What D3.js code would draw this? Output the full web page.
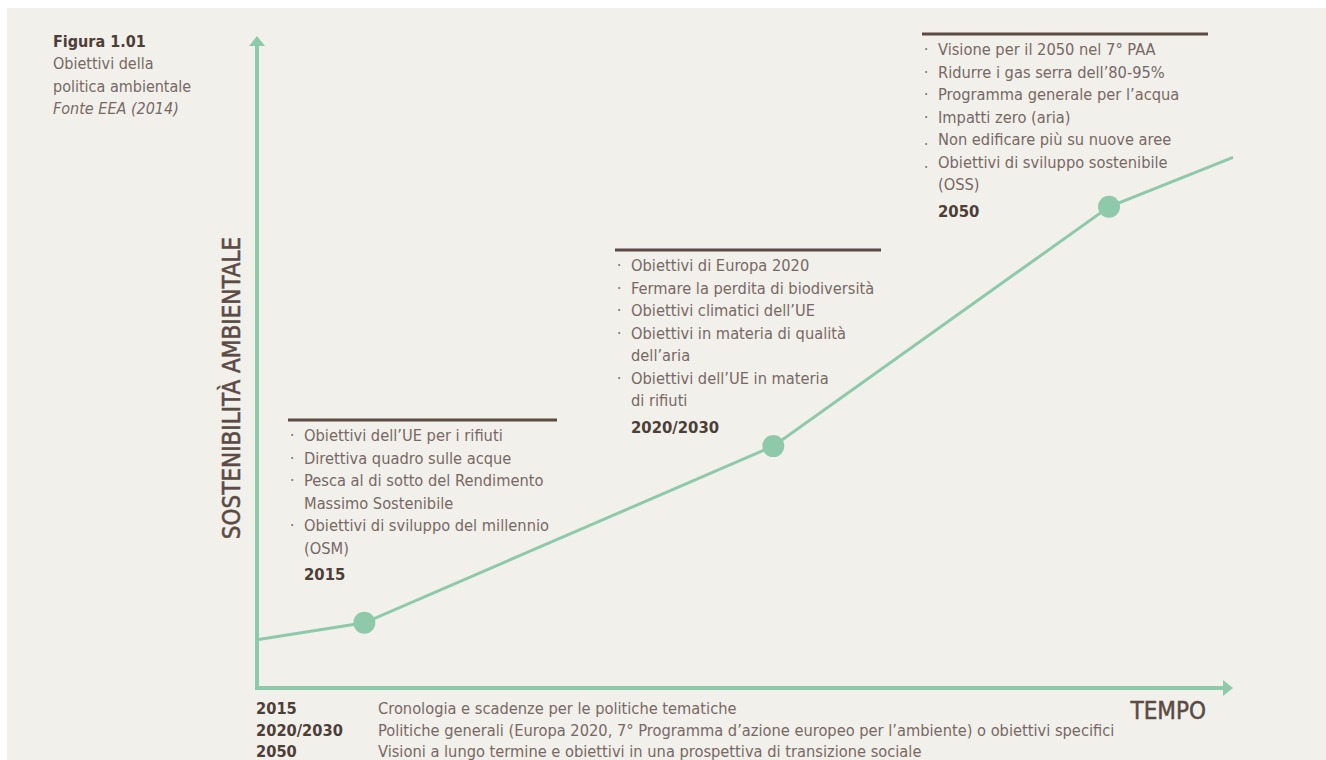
<!DOCTYPE html>
<html>
<head>
<meta charset="utf-8">
<script src="https://cdn.jsdelivr.net/npm/d3@7"></script>
<style>
  body { margin: 0; background: #ffffff; }
  svg text { font-family: "DejaVu Sans Condensed", "Liberation Sans Narrow", Roboto, sans-serif; }
</style>
</head>
<body>
<div id="chart"></div>
<script>
// Title block
var titleLines = ["Obiettivi della", "politica ambientale"];
var titleSource = "Fonte EEA (2014)";

// Curve of environmental sustainability over time (0-100 scales)
var pointLabels = ["inizio", "2015", "2020/2030", "2050", "fine"];
var timeValues = [0, 11, 52.9, 87.3, 100];
var sustainValues = [7.4, 10, 37.1, 73.8, 81.4];
var markedPoints = ["2015", "2020/2030", "2050"];

// Annotation boxes
var box2015 = ["Obiettivi dell’UE per i rifiuti", "Direttiva quadro sulle acque",
  "Pesca al di sotto del Rendimento", "Massimo Sostenibile",
  "Obiettivi di sviluppo del millennio", "(OSM)"];
var bullets2015 = ["·", "·", "·", "", "·", ""];
var box2030 = ["Obiettivi di Europa 2020", "Fermare la perdita di biodiversità",
  "Obiettivi climatici dell’UE", "Obiettivi in materia di qualità", "dell’aria",
  "Obiettivi dell’UE in materia", "di rifiuti"];
var bullets2030 = ["·", "·", "·", "·", "", "·", ""];
var box2050 = ["Visione per il 2050 nel 7° PAA", "Ridurre i gas serra dell’80-95%",
  "Programma generale per l’acqua", "Impatti zero (aria)",
  "Non edificare più su nuove aree", "Obiettivi di sviluppo sostenibile", "(OSS)"];
var bullets2050 = ["·", "·", "·", "·", ".", ".", ""];

// Legend at the bottom
var legendKeys = ["2015", "2020/2030", "2050"];
var legendTexts = ["Cronologia e scadenze per le politiche tematiche",
  "Politiche generali (Europa 2020, 7° Programma d’azione europeo per l’ambiente) o obiettivi specifici",
  "Visioni a lungo termine e obiettivi in una prospettiva di transizione sociale"];

var svgWidth = 1326;
var svgHeight = 760;
var green = "#8ecaa9";
var textCol = "#786864";
var darkCol = "#4d3e37";
var barCol = "#5b4b43";

var svg = d3.select("#chart").append("svg")
  .attr("width", svgWidth)
  .attr("height", svgHeight);

svg.append("rect")
  .attr("x", 7).attr("y", 8)
  .attr("width", svgWidth - 7).attr("height", svgHeight - 8)
  .attr("fill", "#f2f0eb");

var x = d3.scaleLinear().domain([0, 100]).range([257, 1233]);
var y = d3.scaleLinear().domain([0, 100]).range([688, 36]);

// Axes with arrowheads
svg.append("line")
  .attr("x1", x(0)).attr("y1", y(0)).attr("x2", x(0)).attr("y2", y(100) + 8)
  .attr("stroke", green).attr("stroke-width", 4);
svg.append("path")
  .attr("d", `M${x(0) - 8},${y(100) + 10} L${x(0)},${y(100)} L${x(0) + 8},${y(100) + 10} Z`)
  .attr("fill", green);
svg.append("line")
  .attr("x1", x(0) - 2).attr("y1", y(0)).attr("x2", x(100) - 8).attr("y2", y(0))
  .attr("stroke", green).attr("stroke-width", 4);
svg.append("path")
  .attr("d", `M${x(100) - 10},${y(0) - 8} L${x(100)},${y(0)} L${x(100) - 10},${y(0) + 8} Z`)
  .attr("fill", green);

// Curve
var pts = pointLabels.map(function(d, i) { return { label: d, t: timeValues[i], s: sustainValues[i] }; });
var line = d3.line().x(function(d) { return x(d.t); }).y(function(d) { return y(d.s); });
svg.append("path")
  .datum(pts)
  .attr("d", line)
  .attr("fill", "none")
  .attr("stroke", green)
  .attr("stroke-width", 3);

svg.selectAll("circle.pt")
  .data(pts.filter(function(d) { return markedPoints.indexOf(d.label) >= 0; }))
  .enter().append("circle")
  .attr("class", "pt")
  .attr("cx", function(d) { return x(d.t); })
  .attr("cy", function(d) { return y(d.s); })
  .attr("r", 11)
  .attr("fill", green);

// Annotation boxes
function drawBox(x0, width, barY, lines, bullets, year) {
  var g = svg.append("g");
  g.append("rect")
    .attr("x", x0).attr("y", barY - 1.5)
    .attr("width", width).attr("height", 3)
    .attr("fill", barCol);
  var startY = barY + 21;
  var step = 22.5;
  lines.forEach(function(t, i) {
    g.append("text")
      .attr("x", x0 + 2).attr("y", startY + i * step)
      .attr("fill", textCol).attr("font-size", 15)
      .text(bullets[i]);
    g.append("text")
      .attr("x", x0 + 16).attr("y", startY + i * step)
      .attr("fill", textCol).attr("font-size", 16.3)
      .text(t);
  });
  g.append("text")
    .attr("x", x0 + 16).attr("y", startY + lines.length * step + 4)
    .attr("fill", darkCol).attr("font-size", 16.5).attr("font-weight", "bold")
    .text(year);
}
drawBox(288, 269, 420, box2015, bullets2015, "2015");
drawBox(615, 266, 250, box2030, bullets2030, "2020/2030");
drawBox(922, 286, 34, box2050, bullets2050, "2050");

// Title block
svg.append("text")
  .attr("x", 53).attr("y", 47)
  .attr("fill", darkCol).attr("font-size", 16).attr("font-weight", "bold")
  .text("Figura 1.01");
titleLines.forEach(function(t, i) {
  svg.append("text")
    .attr("x", 53).attr("y", 69 + i * 22.5)
    .attr("fill", textCol).attr("font-size", 16)
    .text(t);
});
svg.append("text")
  .attr("x", 53).attr("y", 114)
  .attr("fill", textCol).attr("font-size", 16).attr("font-style", "italic")
  .text(titleSource);

// Axis titles
svg.append("text")
  .attr("transform", "translate(240, 388) rotate(-90)")
  .attr("text-anchor", "middle")
  .attr("fill", "#5b4b45").attr("font-size", 24)
  .attr("stroke", "#5b4b45").attr("stroke-width", 0.5)
  .text("SOSTENIBILITÀ AMBIENTALE");
svg.append("text")
  .attr("x", 1206).attr("y", 719)
  .attr("text-anchor", "end")
  .attr("fill", "#5b4b45").attr("font-size", 24)
  .attr("stroke", "#5b4b45").attr("stroke-width", 0.5)
  .text("TEMPO");

// Legend
legendKeys.forEach(function(k, i) {
  svg.append("text")
    .attr("x", 256).attr("y", 714 + i * 21.5)
    .attr("fill", darkCol).attr("font-size", 16.3).attr("font-weight", "bold")
    .text(k);
  svg.append("text")
    .attr("x", 378).attr("y", 714 + i * 21.5)
    .attr("fill", textCol).attr("font-size", 16.3)
    .text(legendTexts[i]);
});
</script>
</body>
</html>
